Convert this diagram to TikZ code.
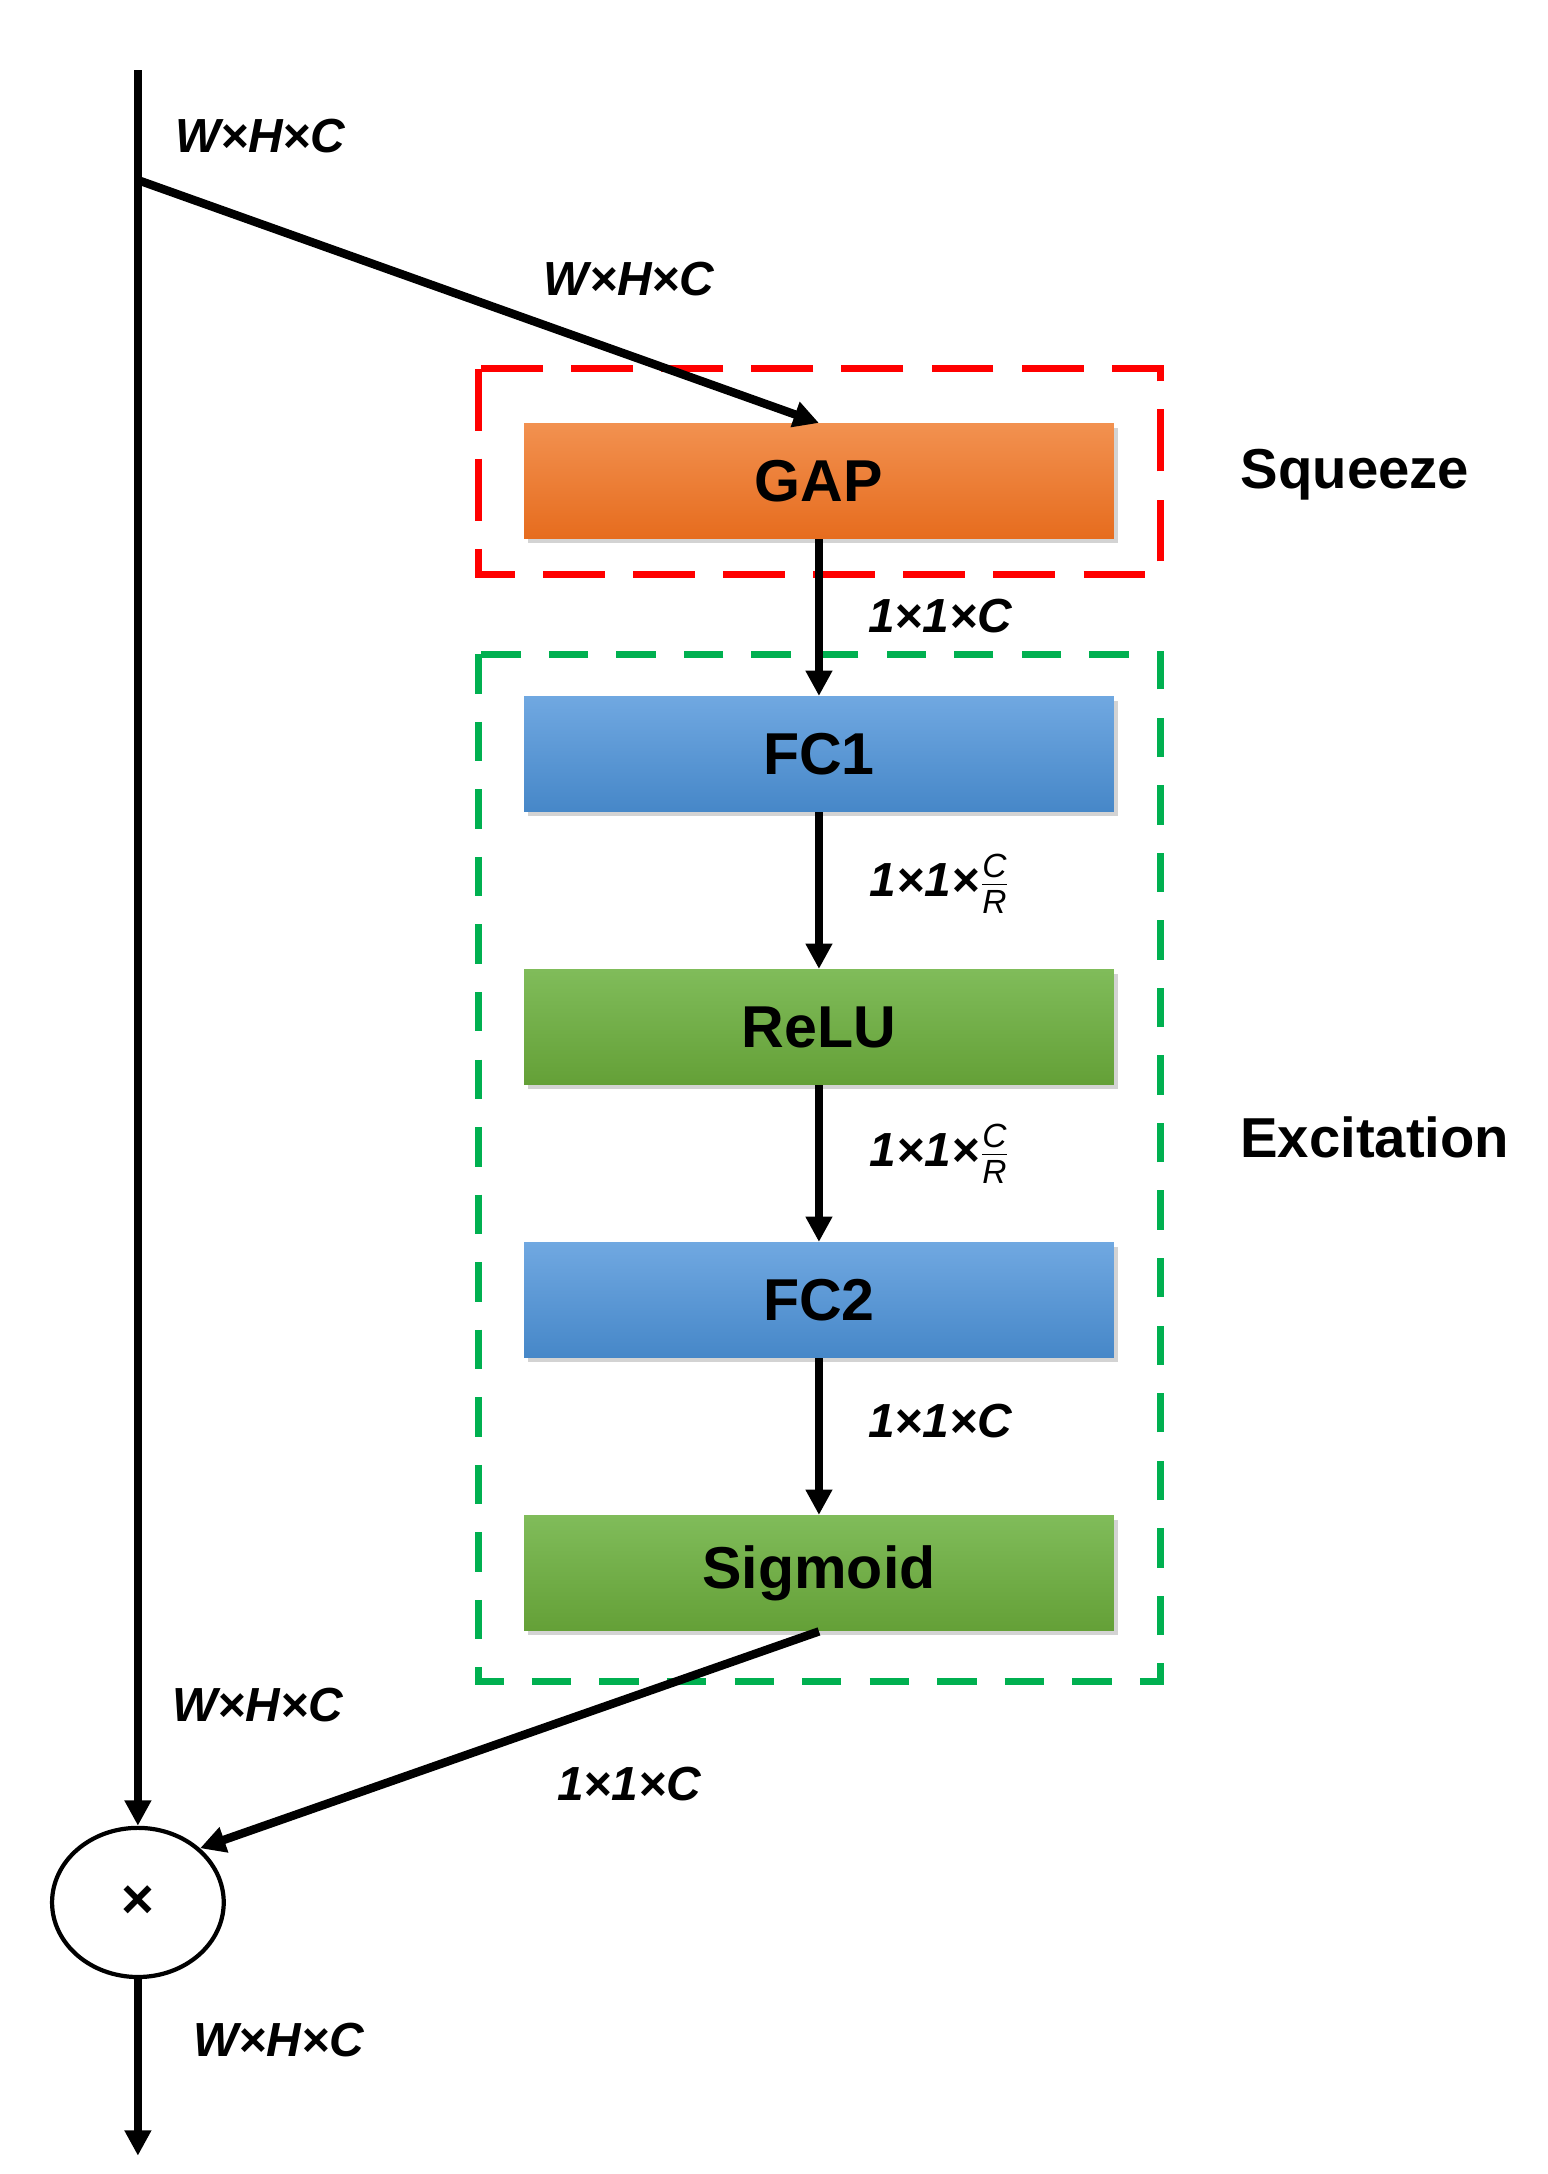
\documentclass[tikz,border=0pt]{standalone}
\usepackage{fontspec}
\setmainfont{Liberation Sans}
\usetikzlibrary{arrows.meta,shadows,shapes.geometric}
\definecolor{ot}{RGB}{242,145,80}\definecolor{ob}{RGB}{230,108,30}
\definecolor{bt}{RGB}{112,168,225}\definecolor{bb}{RGB}{70,135,200}
\definecolor{gt}{RGB}{128,188,90}\definecolor{gb}{RGB}{100,160,55}
\begin{document}
\begin{tikzpicture}[x=0.5pt,y=-0.5pt,
  blk/.style={minimum width=209.5pt,minimum height=41pt,inner sep=0pt,font=\fontsize{21}{24}\selectfont\bfseries,drop shadow={shadow xshift=1.5pt,shadow yshift=-1.5pt,opacity=0.35}},
  orange/.style={blk,top color=ot,bottom color=ob},
  blue/.style={blk,top color=bt,bottom color=bb},
  green/.style={blk,top color=gt,bottom color=gb},
  arr/.style={line width=3pt,-{Triangle[length=9pt,width=9pt]}},
  lab/.style={font=\fontsize{17}{20}\selectfont\bfseries\itshape},
  sec/.style={font=\fontsize{20}{24}\selectfont\bfseries}]
\useasboundingbox (0,0) rectangle (1100,1545);
\definecolor{rd}{RGB}{255,0,0}\definecolor{gr}{RGB}{0,176,80}
\draw[rd,line width=2.5pt,dash pattern=on 22pt off 10pt] (340,262) rectangle (825,408);
\draw[gr,line width=2.5pt,dash pattern=on 14pt off 10pt] (340,465) rectangle (825,1195);
\node[orange] (gap) at (582,342) {GAP};
\node[blue] (fc1) at (582,536) {FC1};
\node[green] (relu) at (582,730) {ReLU};
\node[blue] (fc2) at (582,924) {FC2};
\node[green] (sig) at (582,1118) {Sigmoid};
\node[draw,line width=1.5pt,ellipse,minimum width=61pt,minimum height=53pt,inner sep=0pt,font=\fontsize{20}{20}\selectfont\bfseries] (mul) at (98,1352) {×};
\coordinate (top) at (98,50);
\coordinate (br) at (98,128);
\coordinate (out) at (98,1532);
\draw[line width=3pt] (top) -- (br);
\draw[arr] (br) -- (mul.north);
\draw[arr] (br) -- (gap.north);
\draw[arr] (gap) -- (fc1);
\draw[arr] (fc1) -- (relu);
\draw[arr] (relu) -- (fc2);
\draw[arr] (fc2) -- (sig);
\draw[arr] (sig.south) -- (mul.north east);
\draw[arr] (mul) -- (out);
\node[lab] at (185,97) {W×H×C};
\node[lab] at (447,198) {W×H×C};
\node[lab] at (668,438) {1×1×C};
\node[lab] at (668,628) {1×1×$\frac{\mathbf{\mathit{C}}}{\mathbf{\mathit{R}}}$};
\node[lab] at (668,820) {1×1×$\frac{\mathbf{\mathit{C}}}{\mathbf{\mathit{R}}}$};
\node[lab] at (668,1010) {1×1×C};
\node[lab] at (183,1212) {W×H×C};
\node[lab] at (447,1268) {1×1×C};
\node[lab] at (198,1450) {W×H×C};
\node[sec] at (963,337) {Squeeze};
\node[sec] at (977,808) {Excitation};
\end{tikzpicture}
\end{document}
